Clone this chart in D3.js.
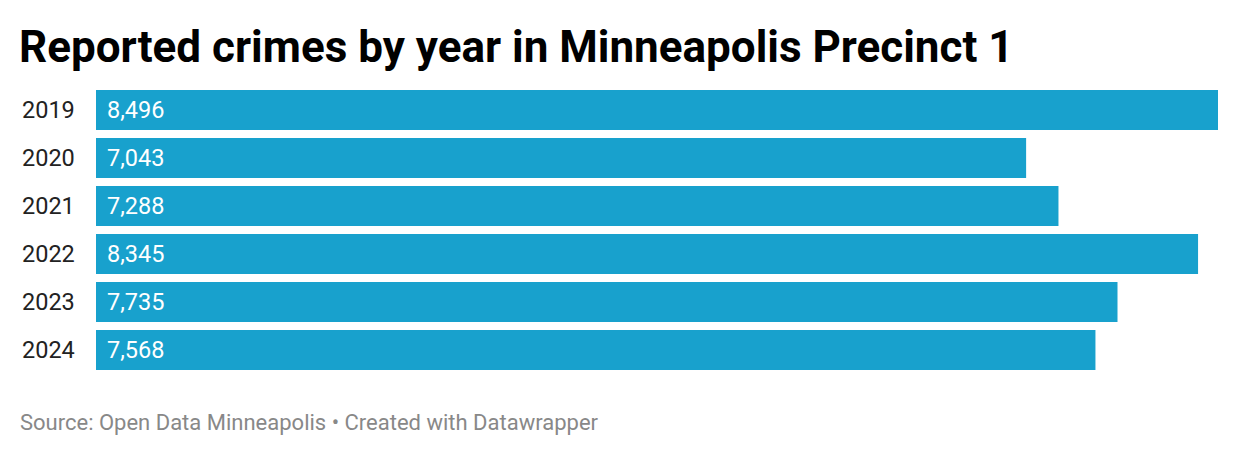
<!DOCTYPE html>
<html>
<head>
<meta charset="utf-8">
<script src="https://cdn.jsdelivr.net/npm/d3@7"></script>
<style>
  html, body { margin: 0; padding: 0; background: #fff; }
  svg { display: block; font-family: Roboto, "Noto Sans", sans-serif; }
</style>
</head>
<body>
<svg id="chart" width="1240" height="456"></svg>
<script>
const title = "Reported crimes by year in Minneapolis Precinct 1";
const footer = "Source: Open Data Minneapolis • Created with Datawrapper";
const years = ["2019", "2020", "2021", "2022", "2023", "2024"];
const crimes = [8496, 7043, 7288, 8345, 7735, 7568];

const svg = d3.select("#chart");
const fmt = d3.format(",");

svg.append("text")
  .attr("x", 19).attr("y", 62)
  .attr("font-size", 44).attr("font-weight", 700)
  .attr("fill", "#000")
  .text(title);

const x = d3.scaleLinear().domain([0, d3.max(crimes)]).range([96, 1218]);
const y = d3.scaleBand().domain(years)
  .range([90, 90 + 48 * years.length - 8])
  .paddingInner(8 / 48).paddingOuter(0);

const data = years.map((yr, i) => ({ yr, v: crimes[i] }));

svg.append("g").selectAll("rect").data(data).join("rect")
  .attr("x", x(0))
  .attr("y", d => y(d.yr))
  .attr("width", d => x(d.v) - x(0))
  .attr("height", y.bandwidth())
  .attr("fill", "#18a1cd");

svg.append("g").selectAll("text").data(data).join("text")
  .attr("x", 22)
  .attr("y", d => y(d.yr) + y.bandwidth() / 2)
  .attr("dy", "0.35em")
  .attr("font-size", 23.5)
  .attr("fill", "#222")
  .text(d => d.yr);

svg.append("g").selectAll("text").data(data).join("text")
  .attr("x", x(0) + 11)
  .attr("y", d => y(d.yr) + y.bandwidth() / 2)
  .attr("dy", "0.35em")
  .attr("font-size", 23.5)
  .attr("fill", "#fff")
  .text(d => fmt(d.v));

svg.append("text")
  .attr("x", 20).attr("y", 430)
  .attr("font-size", 22)
  .attr("fill", "#888")
  .text(footer);
</script>
</body>
</html>
